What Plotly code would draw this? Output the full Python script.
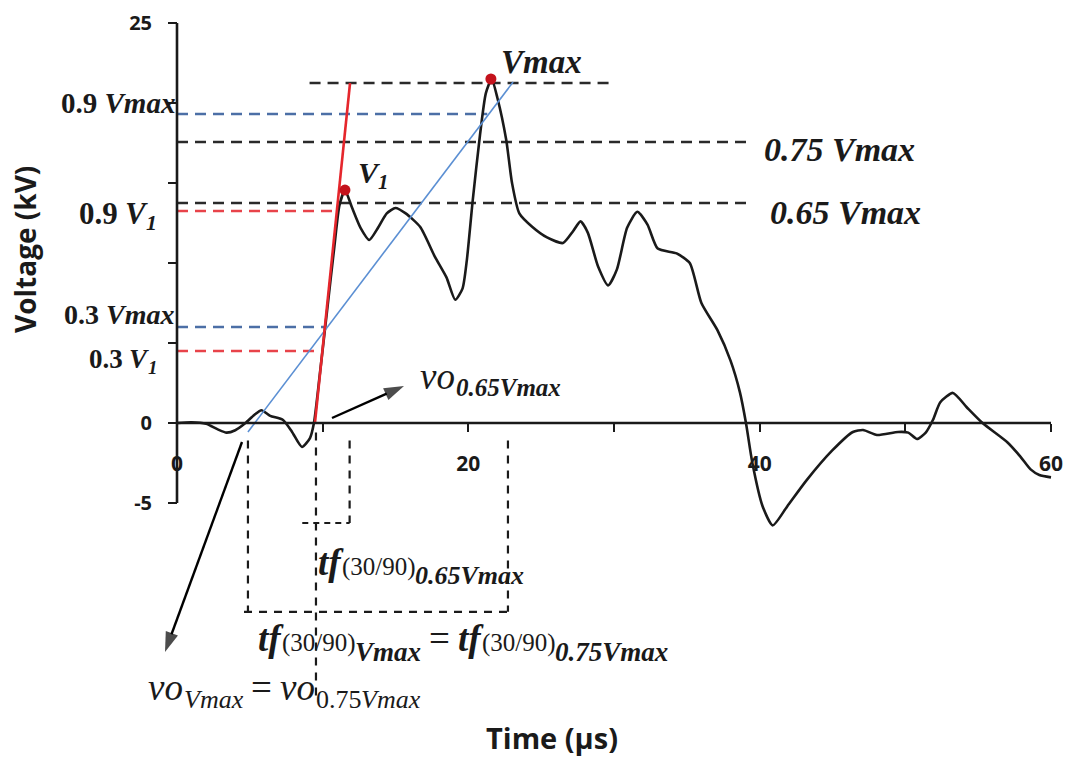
import plotly.graph_objects as go

# Measured impulse waveform (time in microseconds, voltage in kV)
time_us = [0.0, 1.0, 2.0, 2.8, 3.4, 4.0, 4.7, 5.3, 5.8, 6.4, 7.28, 7.9, 8.58, 9.13, 9.4,
           9.8, 10.3, 10.8, 11.15, 11.53, 12.0, 12.6, 13.2, 13.8, 14.4, 15.0, 15.7, 16.7,
           17.7, 18.5, 19.1, 19.6, 19.9, 20.3, 20.8, 21.2, 21.6, 22.0, 22.6, 23.0, 23.5,
           24.4, 25.4, 26.5, 27.2, 27.7, 28.2, 28.9, 29.6, 30.2, 30.9, 31.6, 32.3, 33.0,
           34.3, 35.2, 36.0, 37.1, 38.0, 38.65, 39.06, 39.5, 40.2, 40.9, 41.9, 43.2, 45.0,
           46.4, 47.1, 48.05, 49.5, 50.2, 50.8, 51.4, 51.9, 52.4, 53.27, 54.2, 55.3, 57.0,
           57.9, 58.6, 59.2, 60.0]
voltage_kv = [0.0, 0.05, -0.05, -0.4, -0.6, -0.45, 0.0, 0.5, 0.8, 0.45, 0.19, -0.56, -1.5, -0.94, 0.0,
              3.0, 7.0, 11.0, 13.6, 14.56, 13.5, 12.2, 11.44, 12.2, 13.1, 13.44, 13.1, 12.25,
              10.4, 9.1, 7.7, 8.4, 10.2, 13.9, 18.0, 20.6, 21.5, 20.3, 17.7, 15.0, 13.1,
              12.25, 11.6, 11.25, 12.0, 12.6, 11.9, 9.8, 8.6, 9.6, 12.2, 13.2, 12.4, 10.9,
              10.6, 10.0, 7.5, 5.8, 3.9, 1.9, 0.0, -2.5, -5.2, -6.4, -5.2, -3.6, -1.7,
              -0.56, -0.44, -0.75, -0.56, -0.6, -1.0, -0.6, 0.2, 1.3, 1.88, 1.0, 0.0, -1.2,
              -2.1, -2.9, -3.25, -3.4]

# Characteristic points
v1_point = (11.53, 14.56)
vmax_point = (21.55, 21.5)

# Reference levels (kV)
level_vmax = 21.25
level_09_vmax = 19.31
level_075_vmax = 17.56
level_065_vmax = 13.75
level_09_v1 = 13.25
level_03_vmax = 6.0
level_03_v1 = 4.5

# Front lines through the 30 % / 90 % points
red_front_t = [9.47, 11.88]
red_front_v = [0.0, 21.25]
blue_front_t = [4.87, 23.07]
blue_front_v = [-0.56, 21.31]

# Time markers used for the front-time brackets
t_vo_vmax = 4.87
t_vo_065 = 9.54
t_90_065 = 11.85
t_90_vmax = 22.72

x_major = [0, 20, 40, 60]
x_minor = [10, 30, 50]
y_major = [-5, 0, 25]
y_minor = [5, 10, 15, 20]

W, H = 1068, 765
X0_PX, PX_PER_US = 177, 874 / 60
Y0_PX, PX_PER_KV = 423, 16.0
x_range = [-X0_PX / PX_PER_US, (W - X0_PX) / PX_PER_US]
y_range = [-(H - Y0_PX) / PX_PER_KV, Y0_PX / PX_PER_KV]

BLACK = "#1a1a1a"
RED = "#e5262c"
RED_DASH = "#e8434a"
BLUE = "#5b8fd3"
BLUE_DASH = "#4c6fa6"
SERIF = "Liberation Serif"
SANS = "Open Sans"


def tp(px):
    return (px - X0_PX) / PX_PER_US


def vp(py):
    return (Y0_PX - py) / PX_PER_KV


fig = go.Figure()

# Waveform
fig.add_trace(go.Scatter(x=time_us, y=voltage_kv, mode="lines",
                         line=dict(color=BLACK, width=2.6, shape="spline", smoothing=0.6),
                         hoverinfo="skip", showlegend=False))
# Front lines
fig.add_trace(go.Scatter(x=blue_front_t, y=blue_front_v, mode="lines",
                         line=dict(color=BLUE, width=1.6), showlegend=False))
fig.add_trace(go.Scatter(x=red_front_t, y=red_front_v, mode="lines",
                         line=dict(color=RED, width=2.6), showlegend=False))
# Peak markers
fig.add_trace(go.Scatter(x=[v1_point[0], vmax_point[0]], y=[v1_point[1], vmax_point[1]],
                         mode="markers", marker=dict(color="#c4121c", size=11),
                         showlegend=False))


# Arrows pointing at the virtual origins
def arrow(tail_px, tip_px):
    fig.add_trace(go.Scatter(
        x=[tp(tail_px[0]), tp(tip_px[0])], y=[vp(tail_px[1]), vp(tip_px[1])],
        mode="lines+markers", line=dict(color="#000000", width=2.4),
        marker=dict(symbol=["circle", "arrow"], size=[0, 21], color="#000000",
                    line=dict(width=0), angleref="previous"),
        hoverinfo="skip", showlegend=False))


arrow((242, 442), (165, 652))
arrow((332, 418), (404, 386))

dash_pat = "11px,7px"


def hline(y, t0, t1, color, width=2.6):
    fig.add_shape(type="line", xref="x", yref="y", x0=t0, x1=t1, y0=y, y1=y,
                  line=dict(color=color, width=width, dash=dash_pat), layer="below")


def vline(x, v0, v1, color=BLACK, width=2.2):
    fig.add_shape(type="line", xref="x", yref="y", x0=x, x1=x, y0=v0, y1=v1,
                  line=dict(color=color, width=width, dash="8px,7px"), layer="below")


# Horizontal reference levels
hline(level_vmax, 9.1, 29.9, "#2a2a2a")
hline(level_09_vmax, 0, 21.3, BLUE_DASH)
hline(level_075_vmax, 0, 39.2, "#2a2a2a")
hline(level_065_vmax, 0, 39.2, "#2a2a2a")
hline(level_09_v1, 0, 10.98, RED_DASH)
hline(level_03_vmax, 0, 10.16, BLUE_DASH)
hline(level_03_v1, 0, 9.82, RED_DASH)

# Front-time brackets below the axis
vline(t_vo_vmax, -1.1, -11.8)
vline(t_vo_065, -0.6, -17.2)
vline(t_90_065, -1.1, -6.25)
vline(t_90_vmax, -1.1, -11.8)
fig.add_shape(type="line", xref="x", yref="y", x0=8.6, x1=t_90_065, y0=-6.25, y1=-6.25,
              line=dict(color=BLACK, width=2.2, dash="6px,5px"))
fig.add_shape(type="line", xref="x", yref="y", x0=4.6, x1=22.85, y0=-11.8, y1=-11.8,
              line=dict(color=BLACK, width=2.2, dash="8px,7px"))

# Axis lines
fig.add_shape(type="line", xref="x", yref="y", x0=0, x1=60, y0=0, y1=0,
              line=dict(color=BLACK, width=2.6))
fig.add_shape(type="line", xref="x", yref="y", x0=0, x1=0, y0=-5, y1=25,
              line=dict(color=BLACK, width=2.6))


def note(x, y, text, size, xanchor="center", family=SERIF, color=BLACK):
    fig.add_annotation(x=x, y=y, xref="x", yref="y", text=text, showarrow=False,
                       xanchor=xanchor, yanchor="middle",
                       font=dict(family=family, size=size, color=color))


# Advance widths of the serif face (per 1000 em) for composing labels from pieces
_DIGITS = {d: 500 for d in "0123456789"}
ADV = {
    ("normal", "normal"): {**_DIGITS, "(": 333, ")": 333, "/": 278, ".": 250, "=": 564},
    ("normal", "italic"): {**_DIGITS, "v": 444, "o": 500, "V": 611, "m": 722, "a": 500,
                           "x": 444, ".": 250},
    ("bold", "normal"): {**_DIGITS, ".": 250},
    ("bold", "italic"): {**_DIGITS, "V": 667, "m": 778, "a": 500, "x": 500, ".": 250,
                         "t": 278, "f": 333},
}


def text_width(text, size, weight, style):
    table = ADV[(weight, style)]
    return sum(table.get(ch, 500) for ch in text) * size / 1000.0


def compose(x_px, pieces, align="left"):
    """Place a label built from pieces: (text, size, weight, style, baseline_px, gap_before)."""
    total = sum(text_width(t, s, w, st) + g for t, s, w, st, b, g in pieces)
    cur = x_px - total if align == "right" else x_px
    for text, size, weight, style, base, gap in pieces:
        cur += gap
        fig.add_annotation(x=tp(cur), y=vp(base - 0.34 * size), xref="x", yref="y",
                           text=text, showarrow=False, xanchor="left", yanchor="middle",
                           borderpad=0, borderwidth=0,
                           font=dict(family=SERIF, size=size, color=BLACK,
                                     weight=weight, style=style))
        cur += text_width(text, size, weight, style)


# Peak labels
note(tp(541), vp(62), "<b><i>Vmax</i></b>", 33)
note(tp(762), vp(149), "<b><i>0.75 Vmax</i></b>", 34, xanchor="left")
note(tp(768), vp(212), "<b><i>0.65 Vmax</i></b>", 34, xanchor="left")
compose(358, [("V", 30, "bold", "italic", 183, 0),
              ("1", 21, "bold", "italic", 189, 0)])

# Level labels left of the axis
note(tp(177), vp(103), "<b>0.9 <i>Vmax</i></b>", 29, xanchor="right")
note(tp(176), vp(314), "<b>0.3 <i>Vmax</i></b>", 28, xanchor="right")
compose(157, [("0.9", 31, "bold", "normal", 224, 0),
              ("V", 31, "bold", "italic", 224, 7.8),
              ("1", 22, "bold", "italic", 230, 0)], align="right")
compose(157, [("0.3", 27, "bold", "normal", 368, 0),
              ("V", 27, "bold", "italic", 368, 6.8),
              ("1", 19, "bold", "italic", 374, 0)], align="right")

# Virtual origin labels
compose(420, [("vo", 37, "normal", "italic", 389, 0),
              ("0.65Vmax", 25, "bold", "italic", 396, 1)])
compose(148, [("vo", 37, "normal", "italic", 700, 0),
              ("Vmax", 26, "normal", "italic", 708, 1),
              ("=", 37, "normal", "normal", 700, 8),
              ("vo", 37, "normal", "italic", 700, 8),
              ("0.75", 26, "normal", "normal", 708, 1),
              ("Vmax", 26, "normal", "italic", 708, 0)])

# Front-time labels
compose(318, [("tf", 37, "bold", "italic", 575, 0),
              ("(30/90)", 25, "normal", "normal", 575, 1),
              ("0.65Vmax", 26, "bold", "italic", 584, 0)])
compose(258, [("tf", 37, "bold", "italic", 651, 0),
              ("(30/90)", 25, "normal", "normal", 651, 1),
              ("Vmax", 27, "bold", "italic", 661, 0),
              ("=", 37, "normal", "normal", 651, 8),
              ("tf", 37, "bold", "italic", 651, 8),
              ("(30/90)", 25, "normal", "normal", 651, 1),
              ("0.75Vmax", 27, "bold", "italic", 661, 0)])

# Axis titles
fig.add_annotation(x=25 / W, y=1 - 250 / H, xref="paper", yref="paper", text="Voltage (kV)",
                   textangle=-90, showarrow=False, xanchor="center", yanchor="middle",
                   font=dict(family=SANS, size=28, color=BLACK, weight="bold"))
fig.add_annotation(x=552 / W, y=1 - 737 / H, xref="paper", yref="paper", text="Time (µs)",
                   showarrow=False, xanchor="center", yanchor="middle",
                   font=dict(family=SANS, size=29, color=BLACK, weight="bold"))

tick_font = dict(family=SANS, size=21, color=BLACK, weight="bold")

fig.update_layout(
    width=W, height=H, margin=dict(l=0, r=0, t=0, b=0),
    paper_bgcolor="white", plot_bgcolor="white", showlegend=False,
    xaxis=dict(range=x_range, domain=[0, 1], anchor="free", position=1 - Y0_PX / H,
               showgrid=False, zeroline=False, showline=False,
               tickmode="array", tickvals=x_major, ticktext=[str(v) for v in x_major],
               ticks="outside", ticklen=8, tickwidth=2, tickcolor=BLACK,
               ticklabelstandoff=14, tickfont=tick_font,
               minor=dict(tickmode="array", tickvals=x_minor, ticks="outside",
                          ticklen=8, tickwidth=2, tickcolor=BLACK, showgrid=False)),
    yaxis=dict(range=y_range, domain=[0, 1], anchor="free", position=X0_PX / W,
               showgrid=False, zeroline=False, showline=False,
               tickmode="array", tickvals=y_major, ticktext=[str(v) for v in y_major],
               ticks="outside", ticklen=9, tickwidth=2, tickcolor=BLACK,
               ticklabelstandoff=12, tickfont=dict(tick_font, size=20),
               minor=dict(tickmode="array", tickvals=y_minor, ticks="outside",
                          ticklen=9, tickwidth=2, tickcolor=BLACK, showgrid=False)),
)

fig.write_html("out.html")
